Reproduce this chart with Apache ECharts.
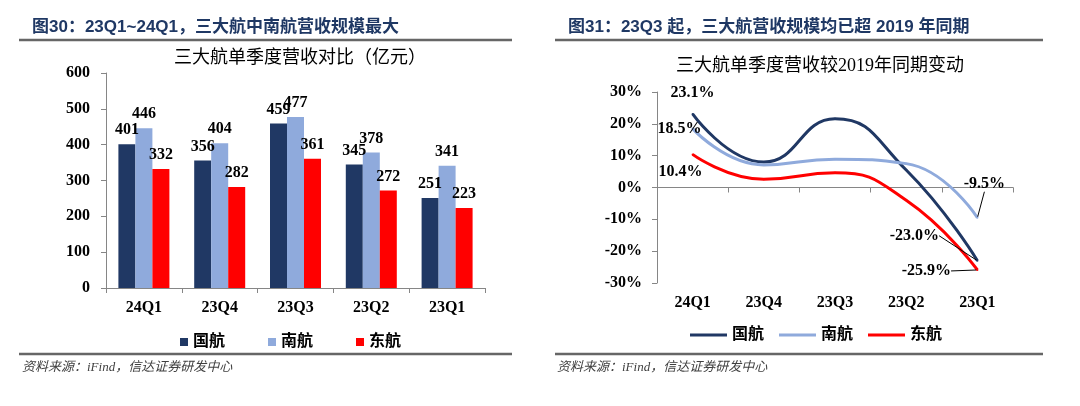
<!DOCTYPE html>
<html>
<head>
<meta charset="utf-8">
<script src="https://cdn.jsdelivr.net/npm/echarts@6/dist/echarts.min.js"></script>
<style>
html,body{margin:0;padding:0;background:#fff;}
#c{width:1080px;height:406px;}
</style>
</head>
<body>
<div id="c"></div>
<script>
// ---- data ----
const categories = ['24Q1', '23Q4', '23Q3', '23Q2', '23Q1'];
const seriesNames = ['国航', '南航', '东航'];
const revAirChina = [401, 356, 459, 345, 251];
const revChinaSouthern = [446, 404, 477, 378, 341];
const revChinaEastern = [332, 282, 361, 272, 223];
const chgAirChina = [23.1, 8.0, 21.6, 5.5, -23.0];
const chgChinaSouthern = [18.5, 7.1, 8.9, 7.5, -9.5];
const chgChinaEastern = [10.4, 2.6, 4.6, -4.0, -25.9];
const revTicks = [0, 100, 200, 300, 400, 500, 600];
const chgTicks = [-30, -20, -10, 0, 10, 20, 30];
const labelledPoints = [0, 4];

// ---- styles ----
const colors = ['#203864', '#8FAADC', '#FF0000'];
const serif = '"Liberation Serif", "Noto Sans CJK SC", serif';
const cjk = '"Liberation Serif", "Noto Sans CJK SC", sans-serif';
const numStyle = { fontFamily: serif, fontWeight: 'bold', fontSize: 16, color: '#000' };
const axisLineStyle = { lineStyle: { color: '#868686', width: 1 } };

// label shifts for the line chart (in px from the point)
const shifts = {
  '国航': { 0: [0, -21], 4: [-63, -25] },
  '南航': { 0: [-13, 0], 4: [7, -34] },
  '东航': { 0: [-12, 17], 4: [-51, 1] }
};
const leaderIdx = 4;

const chart = echarts.init(document.getElementById('c'), null, { renderer: 'canvas' });

function lineSeries(name, values, color) {
  return {
    name: name,
    type: 'line',
    xAxisIndex: 2,
    yAxisIndex: 1,
    smooth: true,
    symbol: 'circle',
    symbolSize: 2,
    showSymbol: true,
    lineStyle: { color: color, width: 3 },
    itemStyle: { color: color },
    label: { show: false },
    labelLine: { show: false },
    data: values.map((v, i) => {
      const item = { value: v };
      if (labelledPoints.includes(i)) {
        item.label = Object.assign({ show: true, position: 'inside', formatter: p => p.value.toFixed(1) + '%' }, numStyle);
        if (i === leaderIdx) {
          item.labelLine = { show: true, lineStyle: { color: '#000', width: 1 } };
        }
      }
      return item;
    }),
    labelLayout: function (p) {
      const s = shifts[name][p.dataIndex];
      if (!s) return {};
      return { dx: s[0], dy: s[1] };
    },
    emphasis: { disabled: true }
  };
}

function barSeries(name, values, color) {
  return {
    name: name,
    type: 'bar',
    xAxisIndex: 0,
    yAxisIndex: 0,
    barWidth: 17,
    barGap: '0%',
    itemStyle: { color: color },
    label: Object.assign({ show: true, position: 'top', distance: 6 }, numStyle),
    data: values,
    emphasis: { disabled: true }
  };
}

function txt(text, x, y, font, color, align) {
  return { type: 'text', x: x, y: y, silent: true,
    style: { text: text, font: font, fill: color, textAlign: align || 'left', textVerticalAlign: 'middle' } };
}
const headFont = 'bold 17px "Liberation Sans", "Noto Sans CJK SC", sans-serif';
const titleFont = 'normal 18px "Liberation Serif", "Noto Sans CJK SC", serif';
const footFont = 'italic 13px "Liberation Serif", "Noto Sans CJK SC", serif';

const option = {
  animation: false,
  backgroundColor: '#fff',
  graphic: [
    txt('图30：23Q1~24Q1，三大航中南航营收规模最大', 32, 27, headFont, '#1F3864'),
    txt('图31：23Q3 起，三大航营收规模均已超 2019 年同期', 568, 27, headFont, '#1F3864'),
    txt('三大航单季度营收对比（亿元）', 300, 58, titleFont, '#000', 'center'),
    txt('三大航单季度营收较2019年同期变动', 820, 66, titleFont, '#000', 'center'),
    txt('资料来源：iFind，信达证券研发中心 ', 22, 368, footFont, '#404040'),
    txt('资料来源：iFind，信达证券研发中心 ', 557, 368, footFont, '#404040'),
    { type: 'line', shape: { x1: 19, y1: 40, x2: 512, y2: 40 }, style: { stroke: '#666', lineWidth: 2.5 } },
    { type: 'line', shape: { x1: 555, y1: 40, x2: 1043, y2: 40 }, style: { stroke: '#666', lineWidth: 2.5 } },
    { type: 'line', shape: { x1: 19, y1: 354, x2: 512, y2: 354 }, style: { stroke: '#666', lineWidth: 2.5 } },
    { type: 'line', shape: { x1: 555, y1: 354, x2: 1043, y2: 354 }, style: { stroke: '#666', lineWidth: 2.5 } }
  ],
  legend: [
    { data: seriesNames, left: 175, top: 329, icon: 'rect', itemWidth: 8, itemHeight: 8, itemGap: 43,
      textStyle: { fontFamily: cjk, fontWeight: 'bold', fontSize: 16, color: '#000' }, selectedMode: false },
    { data: seriesNames, left: 685, top: 322, icon: 'rect', itemWidth: 37, itemHeight: 3, itemGap: 15,
      textStyle: { fontFamily: cjk, fontWeight: 'bold', fontSize: 16, color: '#000' }, selectedMode: false }
  ],
  grid: [
    { left: 106, right: 595, top: 73, bottom: 118 },
    { left: 657, right: 67, top: 92, bottom: 123 }
  ],
  xAxis: [
    { type: 'category', gridIndex: 0, data: categories,
      axisLine: axisLineStyle, axisTick: { show: true, length: 5, lineStyle: { color: '#868686' } },
      axisLabel: Object.assign({ margin: 12 }, numStyle) },
    { type: 'category', gridIndex: 1, data: categories, position: 'bottom',
      axisLine: Object.assign({ onZero: true }, axisLineStyle),
      axisTick: { show: true, length: 5, lineStyle: { color: '#868686' } },
      axisLabel: { show: false } },
    { type: 'category', gridIndex: 1, data: categories, position: 'bottom',
      axisLine: { show: false, onZero: false }, axisTick: { show: false },
      axisLabel: Object.assign({ margin: 12 }, numStyle) }
  ],
  yAxis: [
    { type: 'value', gridIndex: 0, min: revTicks[0], max: revTicks[revTicks.length - 1], interval: revTicks[1] - revTicks[0],
      axisLine: Object.assign({ show: true }, axisLineStyle),
      axisTick: { show: true, length: 5, lineStyle: { color: '#868686' } },
      splitLine: { show: false },
      axisLabel: Object.assign({ margin: 16 }, numStyle) },
    { type: 'value', gridIndex: 1, min: chgTicks[0], max: chgTicks[chgTicks.length - 1], interval: chgTicks[1] - chgTicks[0],
      axisLine: Object.assign({ show: true, onZero: false }, axisLineStyle),
      axisTick: { show: true, length: 5, lineStyle: { color: '#868686' } },
      splitLine: { show: false },
      axisLabel: Object.assign({ margin: 15, formatter: '{value}%' }, numStyle) }
  ],
  series: [
    barSeries(seriesNames[0], revAirChina, colors[0]),
    barSeries(seriesNames[1], revChinaSouthern, colors[1]),
    barSeries(seriesNames[2], revChinaEastern, colors[2]),
    lineSeries(seriesNames[0], chgAirChina, colors[0]),
    lineSeries(seriesNames[1], chgChinaSouthern, colors[1]),
    lineSeries(seriesNames[2], chgChinaEastern, colors[2])
  ]
};
chart.setOption(option);
</script>
</body>
</html>
